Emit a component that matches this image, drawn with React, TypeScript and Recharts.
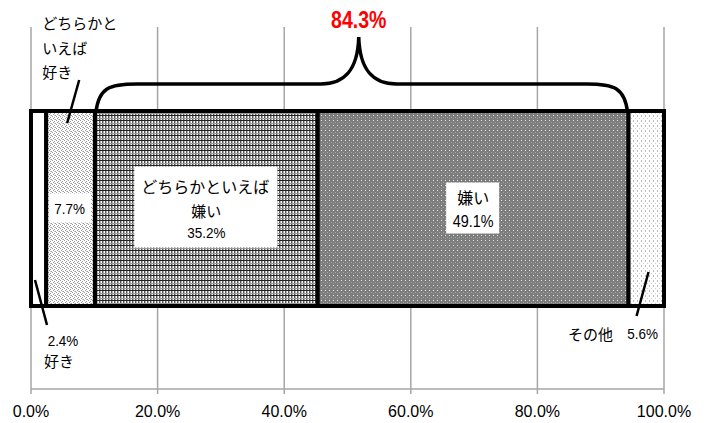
import React from 'react';
import { BarChart, Bar, XAxis, YAxis, CartesianGrid } from 'recharts';

const categories = ['好き', 'どちらかといえば好き', 'どちらかといえば嫌い', '嫌い', 'その他'];
const shares = [2.4, 7.7, 35.2, 49.1, 5.6];
const fills = ['#ffffff', 'url(#pLight)', 'url(#pGrid)', 'url(#pDark)', 'url(#pSparse)'];
const xTicks = [0, 20, 40, 60, 80, 100];
const braceIdx = [2, 3];

const JP = '"Noto Sans CJK JP", "Noto Sans", sans-serif';
const NUM = '"Liberation Sans Narrow", "Liberation Sans", Arial, sans-serif';

const row: Record<string, string | number> = { name: '回答' };
categories.forEach((_, i) => {
  row['s' + i] = shares[i];
});
const chartData = [row];

const pct = (v: number) => v.toFixed(1) + '%';

const T = (p: { x: number; y: number; s: number; f?: string; a?: 'start' | 'middle' | 'end'; children: React.ReactNode; c?: string; b?: boolean; sx?: number }) => (
  <text
    x={p.x}
    y={p.y}
    fontSize={p.s}
    fontFamily={p.f || JP}
    textAnchor={p.a || 'middle'}
    dominantBaseline="central"
    fill={p.c || '#000'}
    fontWeight={p.b ? 'bold' : 'normal'}
    transform={p.sx ? `translate(${p.x} ${p.y}) scale(${p.sx} 1) translate(${-p.x} ${-p.y})` : undefined}
  >
    {p.children}
  </text>
);

const SegmentLabel = ({ idx, x, y, w, h }: { idx: number; x: number; y: number; w: number; h: number }) => {
  const cx = x + w / 2;
  const cy = y + h / 2;
  const lead = { stroke: '#000', strokeWidth: 2.5 };
  if (idx === 0) {
    return (
      <g>
        <line x1={x + 4} y1={y + h - 26} x2={x + 16} y2={y + h + 19} {...lead} />
        <T x={x + 32} y={y + h + 35} s={15} f={NUM} sx={0.9}>{pct(shares[0])}</T>
        <T x={x + 28} y={y + h + 54} s={15}>{categories[0]}</T>
      </g>
    );
  }
  if (idx === 1) {
    return (
      <g>
        <line x1={x + 33} y1={y - 31} x2={x + 21} y2={y + 12} {...lead} />
        <T x={x - 4} y={22} s={15} a="start">どちらかと</T>
        <T x={x - 4} y={47} s={15} a="start">いえば</T>
        <T x={x - 4} y={71} s={15} a="start">好き</T>
        <rect x={x + 3} y={cy - 15} width={w - 7} height={29} fill="#fff" />
        <T x={cx - 1} y={cy} s={15} f={NUM} sx={0.9}>{pct(shares[1])}</T>
      </g>
    );
  }
  if (idx === 2) {
    return (
      <g>
        <rect x={cx - 72} y={cy - 42} width={143} height={81} fill="#fff" />
        <T x={cx - 1} y={cy - 23} s={16}>どちらかといえば</T>
        <T x={cx} y={cy + 2} s={15}>嫌い</T>
        <T x={cx} y={cy + 24} s={15} f={NUM} sx={0.9}>{pct(shares[2])}</T>
      </g>
    );
  }
  if (idx === 3) {
    const unit = w / shares[3];
    const x0 = x - shares[2] * unit;
    const x1 = x + w;
    const mid = (x0 + x1) / 2 - 3;
    const top = y - 27;
    const peak = y - 74;
    const d = [
      `M ${x0 + 1} ${y + 1}`,
      `C ${x0 + 4} ${top + 4} ${x0 + 14} ${top} ${x0 + 42} ${top}`,
      `L ${mid - 38} ${top}`,
      `C ${mid - 14} ${top} ${mid - 1} ${top - 14} ${mid} ${peak}`,
      `C ${mid + 1} ${top - 14} ${mid + 14} ${top} ${mid + 38} ${top}`,
      `L ${x1 - 42} ${top}`,
      `C ${x1 - 14} ${top} ${x1 - 4} ${top + 4} ${x1 - 1} ${y + 1}`,
    ].join(' ');
    const total = braceIdx.reduce((s, k) => s + shares[k], 0);
    return (
      <g>
        <path d={d} fill="none" stroke="#000" strokeWidth={3.5} />
        <T x={mid} y={20} s={23} f={NUM} c="#ff0000" b sx={0.85}>{pct(total)}</T>
        <rect x={cx - 27} y={cy - 26} width={53} height={51} fill="#fff" />
        <T x={cx} y={cy - 12} s={16}>{categories[3]}</T>
        <T x={cx} y={cy + 13} s={16} f={NUM} sx={0.9}>{pct(shares[3])}</T>
      </g>
    );
  }
  return (
    <g>
      <line x1={x + 20} y1={y + h - 34} x2={x + 8} y2={y + h + 10} {...lead} />
      <T x={x + 14} y={y + h + 28} s={15} f={NUM} sx={0.9}>{pct(shares[4])}</T>
      <T x={x - 38} y={y + h + 27} s={15}>{categories[4]}</T>
    </g>
  );
};

const renderLabel = (i: number) => (props: any) => (
  <SegmentLabel
    key={'lbl' + i}
    idx={i}
    x={Number(props.x)}
    y={Number(props.y)}
    w={Number(props.width)}
    h={Number(props.height)}
  />
);

const Patterns = () => (
  <svg width={0} height={0} style={{ position: 'absolute' }}>
    <defs>
      <pattern id="pLight" width={4} height={4} patternUnits="userSpaceOnUse">
        <rect width={4} height={4} fill="#fff" />
        <rect x={0} y={0} width={1} height={1} fill="#999" />
        <rect x={2} y={1} width={1} height={1} fill="#999" />
        <rect x={1} y={2} width={1} height={1} fill="#999" />
        <rect x={3} y={3} width={1} height={1} fill="#999" />
        <rect x={2} y={3} width={1} height={1} fill="#ccc" />
      </pattern>
      <pattern id="pGrid" width={3} height={5} patternUnits="userSpaceOnUse">
        <rect width={3} height={5} fill="#fff" />
        <rect x={0} y={0} width={1} height={5} fill="#555" />
        <rect x={1} y={0} width={1} height={5} fill="#b0b0b0" />
        <rect x={0} y={0} width={3} height={1} fill="#222" />
        <rect x={0} y={3} width={3} height={1} fill="#999" />
      </pattern>
      <pattern id="pDark" width={4} height={5} patternUnits="userSpaceOnUse">
        <rect width={4} height={5} fill="#7c7c7c" />
        <rect x={1} y={0} width={1} height={1} fill="#e8e8e8" />
        <rect x={3} y={2} width={1} height={1} fill="#a8a8a8" />
        <rect x={1} y={3} width={1} height={1} fill="#999" />
      </pattern>
      <pattern id="pSparse" width={4} height={5} patternUnits="userSpaceOnUse">
        <rect width={4} height={5} fill="#fff" />
        <rect x={1} y={0} width={1} height={2} fill="#bbb" />
        <rect x={3} y={3} width={1} height={1} fill="#ccc" />
      </pattern>
    </defs>
  </svg>
);

export default function App() {
  return (
    <div style={{ position: 'absolute', left: 0, top: 0, width: 710, height: 423, background: '#fff' }}>
      <Patterns />
      <BarChart
        width={710}
        height={423}
        data={chartData}
        layout="vertical"
        margin={{ top: 27, right: 46, left: 31, bottom: 0 }}
        barCategoryGap={0}
      >
        <CartesianGrid horizontal={false} stroke="#a6a6a6" strokeWidth={1.5} />
        <XAxis
          type="number"
          domain={[0, 100]}
          ticks={xTicks}
          tickFormatter={pct}
          height={34}
          axisLine={{ stroke: '#a6a6a6', strokeWidth: 1.5 }}
          tickLine={{ stroke: '#a6a6a6', strokeWidth: 1.5 }}
          tickSize={5}
          tickMargin={12}
          tick={{ fill: '#000', fontSize: 16, fontFamily: '"Liberation Sans", Arial, sans-serif' }}
          interval={0}
        />
        <YAxis type="category" dataKey="name" hide width={0} />
        {categories.map((c, i) => (
          <Bar
            key={c}
            dataKey={'s' + i}
            name={c}
            stackId="a"
            barSize={195}
            fill={fills[i]}
            stroke="#000"
            strokeWidth={4}
            isAnimationActive={false}
            label={renderLabel(i)}
          />
        ))}
      </BarChart>
    </div>
  );
}
